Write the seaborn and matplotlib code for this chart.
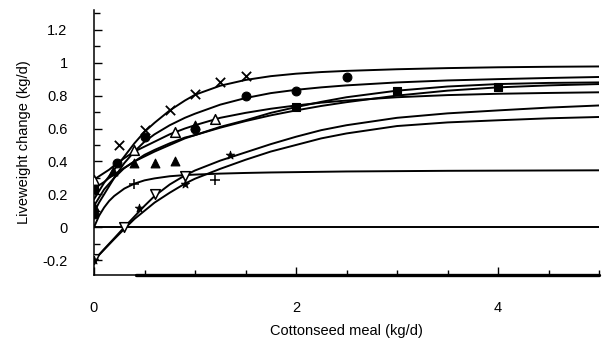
import matplotlib
matplotlib.use("Agg")
import matplotlib.pyplot as plt
from matplotlib.ticker import MultipleLocator, FixedLocator, FuncFormatter
import seaborn as sns

# ---- data ----
CURVE_X = [0, 0.05, 0.1, 0.15, 0.2, 0.3, 0.4, 0.5, 0.6, 0.75, 0.9, 1, 1.25, 1.5,
           1.75, 2, 2.25, 2.5, 3, 3.5, 4, 4.5, 5]
CROSS_CURVE = [0.17, 0.22, 0.27, 0.31, 0.35, 0.43, 0.51, 0.58, 0.635, 0.71, 0.77, 0.805,
               0.86, 0.895, 0.918, 0.933, 0.943, 0.95, 0.96, 0.967, 0.972, 0.975, 0.977]
CIRCLE_CURVE = [0.09, 0.15, 0.20, 0.25, 0.30, 0.39, 0.46, 0.52, 0.565, 0.62, 0.665, 0.69,
                0.745, 0.785, 0.815, 0.835, 0.85, 0.862, 0.88, 0.892, 0.90, 0.907, 0.913]
SQUARE_CURVE = [0.235, 0.255, 0.275, 0.30, 0.32, 0.36, 0.40, 0.43, 0.46, 0.50, 0.54, 0.56,
                0.61, 0.65, 0.695, 0.73, 0.762, 0.79, 0.83, 0.855, 0.87, 0.877, 0.88]
OPEN_TRI_CURVE = [0.29, 0.31, 0.33, 0.35, 0.375, 0.42, 0.46, 0.49, 0.52, 0.565, 0.60, 0.62,
                  0.665, 0.695, 0.72, 0.74, 0.757, 0.77, 0.79, 0.803, 0.811, 0.816, 0.82]
FILLED_TRI_CURVE = [0.13, 0.18, 0.23, 0.265, 0.30, 0.36, 0.40, 0.44, 0.47, 0.51, 0.545, 0.56,
                    0.605, 0.645, 0.68, 0.71, 0.737, 0.76, 0.80, 0.83, 0.85, 0.862, 0.87]
PLUS_CURVE = [0.0, 0.07, 0.12, 0.16, 0.19, 0.235, 0.265, 0.285, 0.297, 0.31, 0.317, 0.32,
              0.326, 0.33, 0.333, 0.335, 0.337, 0.339, 0.341, 0.343, 0.344, 0.345, 0.346]
DOWN_TRI_CURVE = [-0.2, -0.167, -0.133, -0.1, -0.067, 0.0, 0.065, 0.13, 0.19, 0.26, 0.315,
                  0.345, 0.405, 0.455, 0.505, 0.55, 0.59, 0.62, 0.665, 0.692, 0.71, 0.727, 0.74]
STAR_CURVE = [-0.2, -0.168, -0.136, -0.104, -0.072, -0.01, 0.05, 0.10, 0.15, 0.21, 0.265,
              0.295, 0.355, 0.41, 0.46, 0.50, 0.54, 0.57, 0.615, 0.637, 0.65, 0.662, 0.67]
ZERO_LINE = [0, 0, 0, 0, 0, 0, 0, 0, 0, 0, 0, 0, 0, 0, 0, 0, 0, 0, 0, 0, 0, 0, 0]

CROSS_X = [0.25, 0.5, 0.75, 1.0, 1.25, 1.5]
CROSS_Y = [0.50, 0.59, 0.71, 0.81, 0.88, 0.92]
CIRCLE_X = [0, 0.23, 0.5, 1.0, 1.5, 2.0, 2.5]
CIRCLE_Y = [0.08, 0.39, 0.55, 0.60, 0.80, 0.83, 0.91]
SQUARE_X = [0, 2, 3, 4]
SQUARE_Y = [0.23, 0.73, 0.83, 0.85]
OPEN_TRI_X = [0, 0.4, 0.8, 1.2]
OPEN_TRI_Y = [0.29, 0.47, 0.58, 0.66]
FILLED_TRI_X = [0, 0.19, 0.4, 0.6, 0.8, 1.0]
FILLED_TRI_Y = [0.13, 0.34, 0.39, 0.39, 0.40, 0.62]
PLUS_X = [0.4, 1.2]
PLUS_Y = [0.26, 0.29]
DOWN_TRI_X = [0, 0.3, 0.6, 0.9]
DOWN_TRI_Y = [-0.19, 0.0, 0.205, 0.31]
STAR_X = [0, 0.45, 0.9, 1.35]
STAR_Y = [-0.2, 0.12, 0.26, 0.44]

X_LABELS = [0, 2, 4]
Y_LABELS = [-0.2, 0, 0.2, 0.4, 0.6, 0.8, 1, 1.2]

sns.set_theme(style="ticks")
plt.rcParams["font.family"] = ["Liberation Sans", "DejaVu Sans"]

fig = plt.figure(figsize=(6.07, 3.38), dpi=100)
ax = fig.add_axes([94 / 607, 63 / 338, 505 / 607, 265 / 338])

curves = [CROSS_CURVE, CIRCLE_CURVE, SQUARE_CURVE, OPEN_TRI_CURVE,
          FILLED_TRI_CURVE, PLUS_CURVE, DOWN_TRI_CURVE, STAR_CURVE, ZERO_LINE]
for cy in curves:
    sns.lineplot(x=CURVE_X, y=cy, color="black", lw=1.4, ax=ax,
                 estimator=None, sort=False, legend=False)

pts = [
    (CROSS_X, CROSS_Y, "x", "black", 45, 1.3),
    (CIRCLE_X, CIRCLE_Y, "o", "black", 40, 0.8),
    (SQUARE_X, SQUARE_Y, "s", "black", 34, 0.8),
    (OPEN_TRI_X, OPEN_TRI_Y, "^", "white", 48, 1.1),
    (FILLED_TRI_X, FILLED_TRI_Y, "^", "black", 40, 0.8),
    (PLUS_X, PLUS_Y, "+", "black", 45, 1.1),
    (DOWN_TRI_X, DOWN_TRI_Y, "v", "white", 48, 1.1),
    (STAR_X, STAR_Y, "*", "black", 40, 0.6),
]
for xs, ys, m, fc, s, lw in pts:
    if m in ("x", "+"):
        sns.scatterplot(x=xs, y=ys, marker=m, color="black", s=s, linewidth=lw,
                        ax=ax, zorder=5, legend=False)
    else:
        sns.scatterplot(x=xs, y=ys, marker=m, facecolor=fc, edgecolor="black",
                        s=s, linewidth=lw, ax=ax, zorder=5, legend=False)

ax.set_xlim(0, 5)
ax.set_ylim(-0.29, 1.32)

ax.xaxis.set_major_locator(FixedLocator(X_LABELS))
ax.xaxis.set_minor_locator(MultipleLocator(0.5))
ax.yaxis.set_major_locator(FixedLocator(Y_LABELS))
ax.yaxis.set_minor_locator(MultipleLocator(0.1))
ax.yaxis.set_major_formatter(FuncFormatter(lambda v, p: f"{v:g}"))

ax.tick_params(axis="both", which="both", direction="in", colors="black",
               width=1.0, labelsize=10.5)
ax.tick_params(axis="y", which="major", length=6, pad=19)
ax.tick_params(axis="y", which="minor", length=4.5)
ax.tick_params(axis="x", which="major", length=6, pad=19)
ax.tick_params(axis="x", which="minor", length=3.5)

sns.despine(ax=ax)
for sp in ("left", "bottom"):
    ax.spines[sp].set_linewidth(1.1)
    ax.spines[sp].set_color("black")
# thick section of the bottom axis line as in the reference
ax.axhline(-0.29, xmin=0.084, xmax=1.0, color="black", lw=2.4, clip_on=False)

ax.set_xlabel("Cottonseed meal (kg/d)", fontsize=10.5, labelpad=6, color="black")
ax.set_ylabel("Liveweight change (kg/d)", fontsize=10.5, labelpad=8, color="black")
ax.set_facecolor("white")

fig.savefig("out.png", dpi=100, facecolor="white")
